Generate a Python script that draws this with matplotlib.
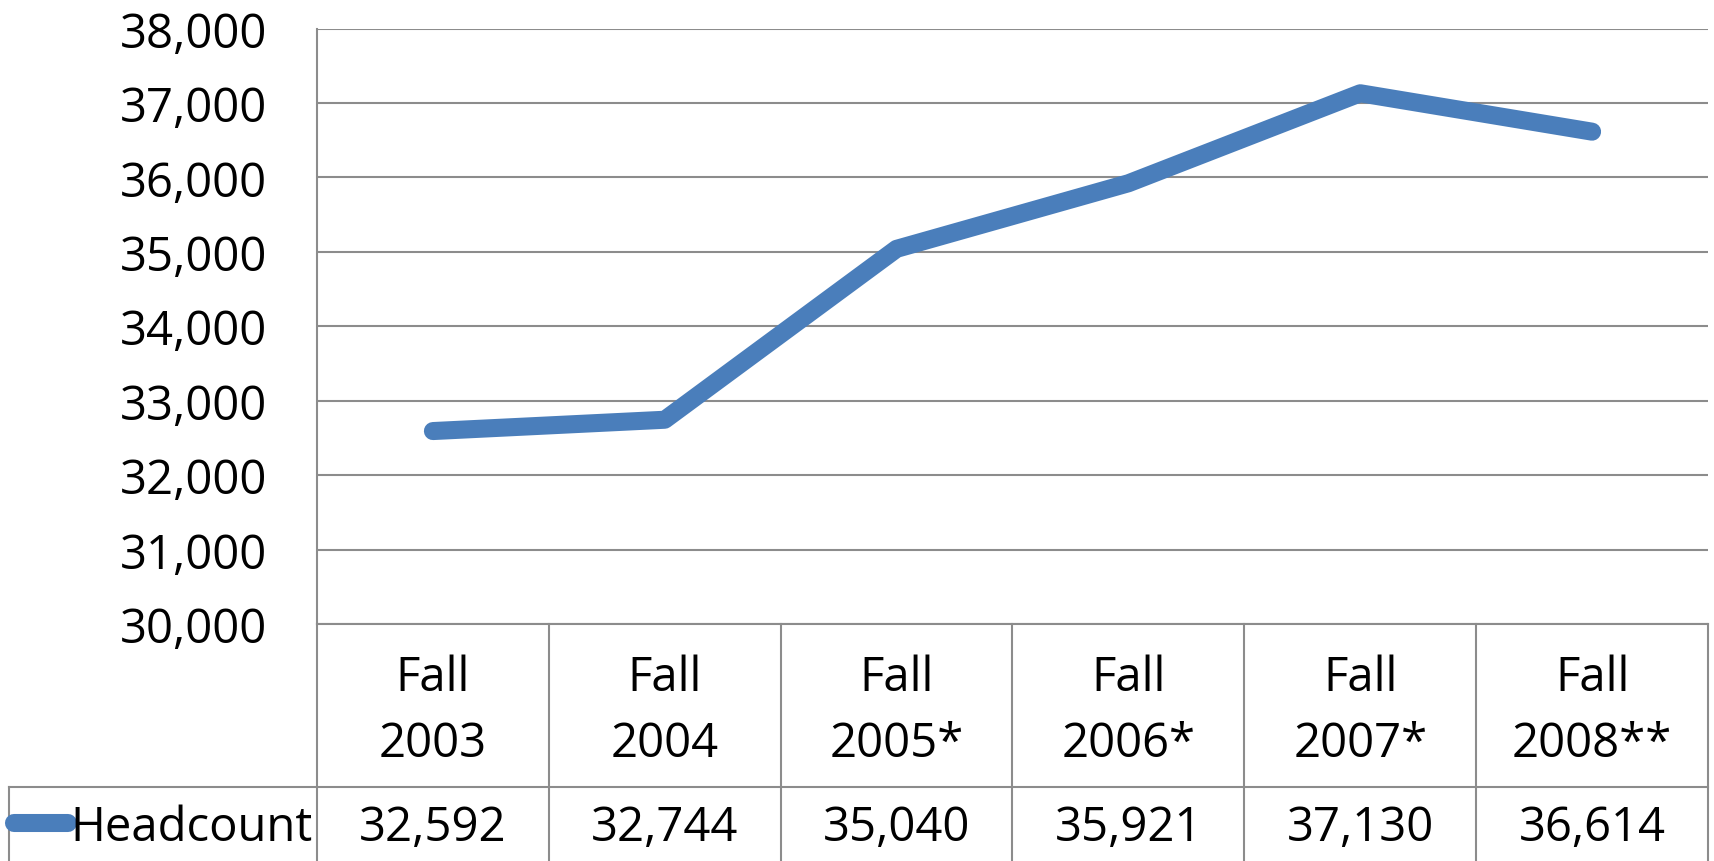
import matplotlib.pyplot as plt
import matplotlib.transforms as mtransforms

# Data
categories = ["Fall\n2003", "Fall\n2004", "Fall\n2005*", "Fall\n2006*", "Fall\n2007*", "Fall\n2008**"]
headcount = [32592, 32744, 35040, 35921, 37130, 36614]
series_name = "Headcount"
yticks = [30000, 31000, 32000, 33000, 34000, 35000, 36000, 37000, 38000]

W, H = 1714, 862
line_color = "#4A7EBB"
grid_color = "#8C8C8C"
fs = 34

plt.rcParams['font.family'] = ['Open Sans', 'DejaVu Sans']

fig = plt.figure(figsize=(W / 100, H / 100), dpi=100)
ax_l, ax_r = 317 / W, 1708 / W
ax_t, ax_b = 1 - 29.5 / H, 1 - 625 / H
ax = fig.add_axes([ax_l, ax_b, ax_r - ax_l, ax_t - ax_b])

n = len(categories)
xs = [i + 0.5 for i in range(n)]
ax.plot(xs, headcount, color=line_color, linewidth=13, solid_capstyle='round',
        solid_joinstyle='round', zorder=3)

ax.set_xlim(0, n)
ax.set_ylim(30000, 38000)
ax.set_yticks(yticks)
ax.set_yticklabels([f"{v:,}" for v in yticks], fontsize=fs)
ax.tick_params(axis='y', length=0, pad=36)
ax.set_xticks([])
ax.yaxis.grid(True, color=grid_color, linewidth=1.5)
for s in ["top", "right", "bottom"]:
    ax.spines[s].set_visible(False)
ax.spines["left"].set_color(grid_color)
ax.spines["left"].set_linewidth(1.5)

# Data table below the plot
ax_h_px = 625 - 29.5
def fy(py):
    return -(py - 625) / ax_h_px

trans = mtransforms.blended_transform_factory(ax.transData, ax.transAxes)
y_hdr = fy(788)
y_bot = fy(900)
kw = dict(color=grid_color, linewidth=1.5, transform=trans, clip_on=False)
for i in range(n + 1):
    ax.plot([i, i], [0, y_bot], **kw)
ax.plot([0, n], [0, 0], **kw)

# row line extends to left edge of table
x_left = (9 - 317) / (1708 - 317) * n
ax.plot([x_left, n], [y_hdr, y_hdr], **kw)
ax.plot([x_left, x_left], [y_hdr, y_bot], **kw)

for i, cat in enumerate(categories):
    top, bottom = cat.split("\n")
    ax.text(i + 0.5, fy(678), top, ha='center', va='center', fontsize=fs,
            transform=trans, clip_on=False)
    ax.text(i + 0.5, fy(744), bottom, ha='center', va='center', fontsize=fs,
            transform=trans, clip_on=False)
    ax.text(i + 0.5, fy(828), f"{headcount[i]:,}", ha='center', va='center',
            fontsize=fs, transform=trans, clip_on=False)

# legend key and series name
x_key0 = (14 - 317) / (1708 - 317) * n
x_key1 = (68 - 317) / (1708 - 317) * n
ax.plot([x_key0, x_key1], [fy(824), fy(824)], color=line_color, linewidth=13,
        solid_capstyle='round', transform=trans, clip_on=False)
ax.text(-0.02, fy(828), series_name, ha='right', va='center', fontsize=fs,
        transform=trans, clip_on=False)

fig.savefig("out.png", dpi=100)
